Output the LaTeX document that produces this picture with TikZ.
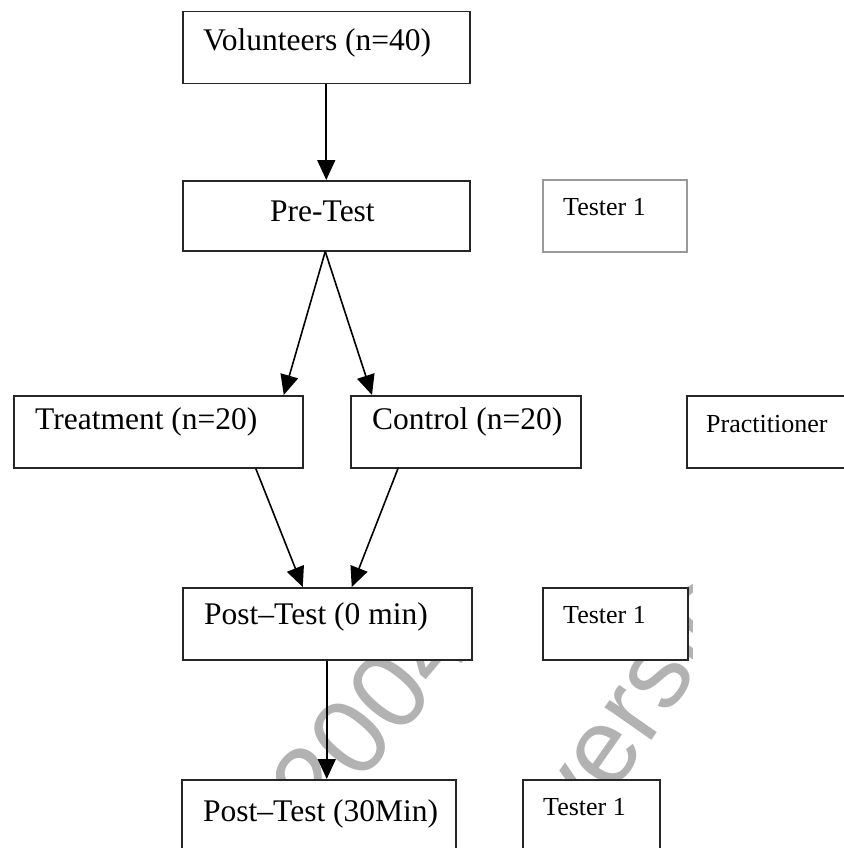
\documentclass[tikz,border=0pt]{standalone}
\usepackage{fontspec}
\setmainfont{Liberation Serif}
\newfontfamily\wmfont{Liberation Sans}
\usetikzlibrary{arrows.meta}
\begin{document}
\begin{tikzpicture}[x=1pt,y=-1pt,
  box/.style={draw=black!85,line width=1.5pt,fill=white,inner sep=0pt,anchor=north west},
  graybox/.style={box,draw=black!40},
  big/.style={font=\fontsize{31.5}{34}\selectfont,anchor=base west,inner sep=0pt},
  small/.style={font=\fontsize{26}{28}\selectfont,anchor=base west,inner sep=0pt},
  arr/.style={line width=1.6pt,-{Triangle[length=20pt,width=18pt]}},
  wm/.style={font=\wmfont\fontsize{108}{108}\selectfont,text=black!30,inner sep=0pt}]
\useasboundingbox (0,0) rectangle (843,848);
\fill[white] (0,0) rectangle (843,848);
% watermark
\begin{scope}
\clip (0,578) rectangle (692,848);
\node[wm,rotate=50] (wma) at (370,715) {2004};
\node[wm,rotate=55] (wmb) at (650,675) {version};
\end{scope}
% boxes
\node[box,minimum width=287pt,minimum height=72pt] (vol) at (182,11) {};
\node[box,minimum width=287pt,minimum height=70pt] (pre) at (182,180) {};
\node[graybox,minimum width=144pt,minimum height=72pt] (t1) at (542,179) {};
\node[box,minimum width=289pt,minimum height=72pt] (treat) at (13,395) {};
\node[box,minimum width=230pt,minimum height=72pt] (ctrl) at (350,395) {};
\node[box,minimum width=180pt,minimum height=72pt] (prac) at (686,395) {};
\node[box,minimum width=289pt,minimum height=72pt] (post0) at (182,587) {};
\node[box,minimum width=145pt,minimum height=72pt] (t2) at (542,587) {};
\node[box,minimum width=274pt,minimum height=100pt] (post30) at (181,779) {};
\node[box,minimum width=137pt,minimum height=100pt] (t3) at (522,779) {};
% texts
\node[big] (volt) at (203,51) {Volunteers (n=40)};
\node[big] (pret) at (270,221) {Pre-Test};
\node[small] (t1t) at (563,215) {Tester 1};
\node[big] (treatt) at (35,429) {Treatment (n=20)};
\node[big] (ctrlt) at (372,429) {Control (n=20)};
\node[small] (pract) at (706,432) {Practitioner};
\node[big] (post0t) at (204,624) {Post--Test (0 min)};
\node[small] (t2t) at (563,623) {Tester 1};
\node[big] (post30t) at (203,821) {Post--Test (30Min)};
\node[small] (t3t) at (543,815) {Tester 1};
% arrows
\draw[arr] (vol.south) -- (pre.north);
\draw[arr] ([xshift=-1pt]pre.south) -- ([xshift=125.5pt]treat.north);
\draw[arr] ([xshift=-1pt]pre.south) -- ([xshift=22pt]ctrl.north west);
\draw[arr] ([xshift=97.5pt]treat.south) -- ([xshift=-24.5pt]post0.north);
\draw[arr] ([xshift=48pt]ctrl.south west) -- ([xshift=24.5pt]post0.north);
\draw[arr] ([xshift=-0.5pt]post0.south) -- ([xshift=-0.5pt]post0.south |- post30.north);
\end{tikzpicture}
\end{document}
